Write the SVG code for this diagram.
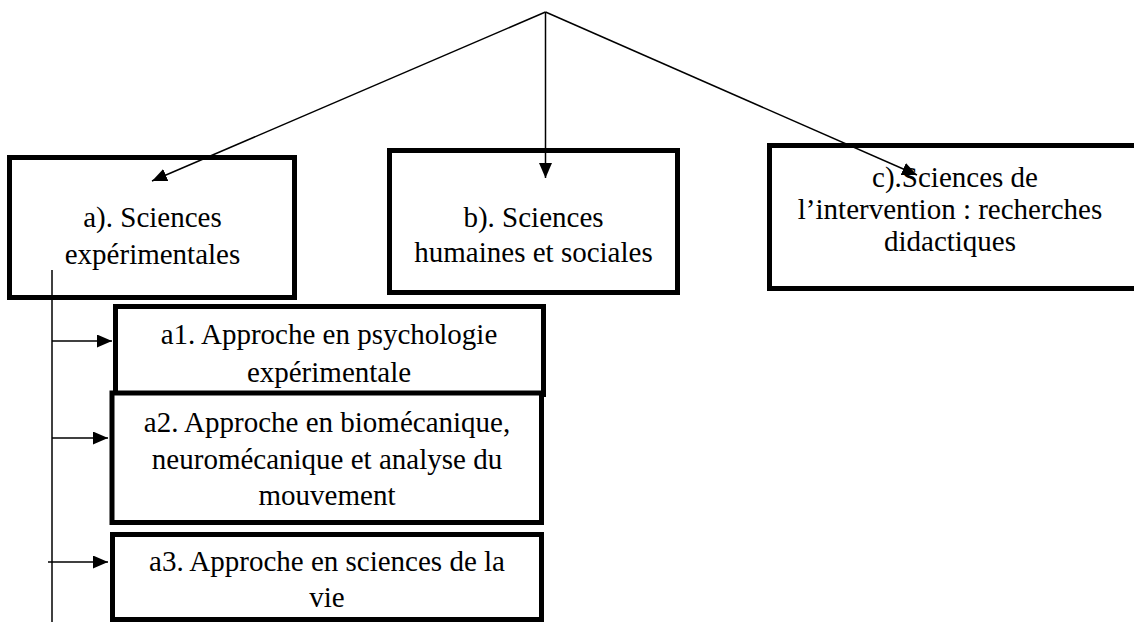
<svg xmlns="http://www.w3.org/2000/svg" width="1134" height="622" viewBox="0 0 1134 622">
<style>
.box{fill:#fff;stroke:#000;stroke-width:5}
.lbl{font-family:"Liberation Serif","Times New Roman",serif;font-size:29px;fill:#000;text-anchor:middle}
.con{stroke:#000;stroke-width:1.5;fill:none}
</style>
<defs>
<marker id="ah" markerUnits="userSpaceOnUse" markerWidth="16" markerHeight="14" refX="15" refY="6.5" orient="auto">
<path d="M0,0 L15,6.5 L0,13 z" fill="#000"/>
</marker>
</defs>
<rect width="1134" height="622" fill="#fff"/>
<g id="node-a">
<rect class="box" x="9.5" y="157.5" width="285" height="140"/>
<text class="lbl" x="152.5" y="227">a). Sciences</text>
<text class="lbl" x="152.5" y="264">expérimentales</text>
</g>
<g id="node-b">
<rect class="box" x="389.5" y="150.5" width="288" height="142"/>
<text class="lbl" x="533.5" y="227">b). Sciences</text>
<text class="lbl" x="533.5" y="262">humaines et sociales</text>
</g>
<g id="node-c">
<rect class="box" x="769.5" y="145.5" width="380" height="143"/>
<text class="lbl" x="955" y="187">c).Sciences de</text>
<text class="lbl" x="950" y="219">l’intervention : recherches</text>
<text class="lbl" x="950" y="251">didactiques</text>
</g>
<g id="node-a1">
<rect class="box" x="115.5" y="306.5" width="428" height="88"/>
<text class="lbl" x="329" y="344">a1. Approche en psychologie</text>
<text class="lbl" x="329" y="382">expérimentale</text>
</g>
<g id="node-a2">
<rect class="box" x="112" y="393" width="429.5" height="129.5"/>
<text class="lbl" x="327" y="432">a2. Approche en biomécanique,</text>
<text class="lbl" x="327" y="469">neuromécanique et analyse du</text>
<text class="lbl" x="327" y="505">mouvement</text>
</g>
<g id="node-a3">
<rect class="box" x="112.5" y="534.5" width="429" height="85"/>
<text class="lbl" x="327" y="571">a3. Approche en sciences de la</text>
<text class="lbl" x="327" y="607">vie</text>
</g>
<g id="connectors">
<line class="con" x1="545.5" y1="12" x2="152" y2="181" marker-end="url(#ah)"/>
<line class="con" x1="545.5" y1="12" x2="545.5" y2="178" marker-end="url(#ah)"/>
<line class="con" x1="545.5" y1="12" x2="917" y2="175" marker-end="url(#ah)"/>
<line class="con" x1="52" y1="270" x2="52" y2="622"/>
<line class="con" x1="52" y1="341" x2="112" y2="341" marker-end="url(#ah)"/>
<line class="con" x1="52" y1="438" x2="108" y2="438" marker-end="url(#ah)"/>
<line class="con" x1="48" y1="562" x2="108" y2="562" marker-end="url(#ah)"/>
</g>
</svg>
